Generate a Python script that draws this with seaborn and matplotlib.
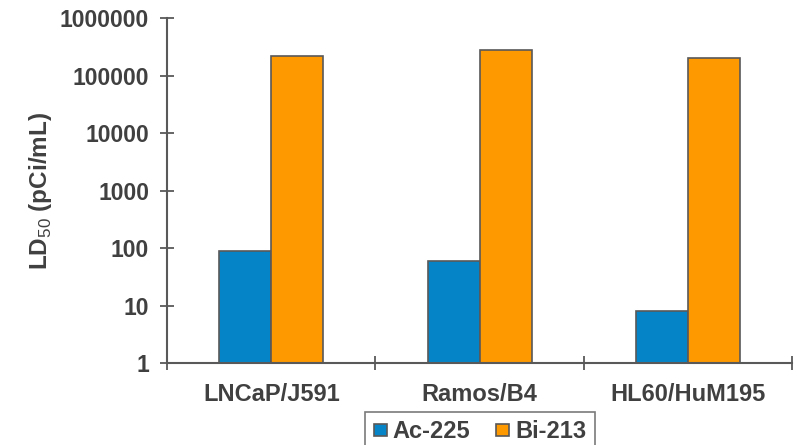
import matplotlib
matplotlib.use("Agg")
import matplotlib.pyplot as plt
from matplotlib.ticker import FixedLocator, NullFormatter, FixedFormatter
import seaborn as sns
import pandas as pd

# LD50 values (pCi/mL) per cell line / antibody pair
cell_lines = ["LNCaP/J591", "Ramos/B4", "HL60/HuM195"]
ac225 = [90, 60, 8.1]
bi213 = [215000, 277000, 198000]
isotopes = ["Ac-225", "Bi-213"]
ytick_values = [1, 10, 100, 1000, 10000, 100000, 1000000]
ytick_labels = ["1", "10", "100", "1000", "10000", "100000", "1000000"]

df = pd.DataFrame({
    "cell": cell_lines * 2,
    "isotope": [isotopes[0]] * 3 + [isotopes[1]] * 3,
    "ld50": ac225 + bi213,
})

sns.set_theme(style="white")
plt.rcParams["font.family"] = ["Liberation Sans", "DejaVu Sans"]
plt.rcParams["mathtext.fontset"] = "custom"
plt.rcParams["mathtext.rm"] = "Liberation Sans"
plt.rcParams["mathtext.bf"] = "Liberation Sans:bold"

text_color = "#404040"
line_color = "#595959"

fig = plt.figure(figsize=(8, 4.45), dpi=100)
ax = fig.add_axes([0.209, 0.1836, 0.781, 0.776])

sns.barplot(
    data=df, x="cell", y="ld50", hue="isotope",
    palette=["#0585c8", "#ff9900"], width=0.5,
    edgecolor=line_color, linewidth=1.2, saturation=1,
    ax=ax, legend=True,
)
ax.set_yscale("log")
ax.set_ylim(1, 1000000)
ax.set_xlim(-0.5, 2.5)

ax.yaxis.set_major_locator(FixedLocator(ytick_values))
ax.yaxis.set_major_formatter(FixedFormatter(ytick_labels))
ax.yaxis.set_minor_locator(FixedLocator([]))
ax.tick_params(axis="y", which="major", direction="inout", length=10,
               width=1.3, color=line_color, labelsize=16.5, labelcolor=text_color,
               left=True, pad=8)
for lbl in ax.get_yticklabels():
    lbl.set_fontweight("bold")

# category labels centred, ticks at group boundaries
ax.xaxis.set_minor_locator(FixedLocator([-0.5, 0.5, 1.5, 2.5]))
ax.xaxis.set_minor_formatter(NullFormatter())
ax.tick_params(axis="x", which="major", length=0, labelsize=17,
               labelcolor=text_color, pad=14)
ax.tick_params(axis="x", which="minor", direction="inout", length=10,
               width=1.3, color=line_color, bottom=True)
for lbl in ax.get_xticklabels():
    lbl.set_fontweight("bold")

ax.set_xlabel("")
ax.set_ylabel(r"LD$_{\mathrm{50}}$ (pCi/mL)", fontsize=17.5, fontweight="bold",
              color=text_color, labelpad=4)

for side in ["top", "right"]:
    ax.spines[side].set_visible(False)
for side in ["left", "bottom"]:
    ax.spines[side].set_color(line_color)
    ax.spines[side].set_linewidth(1.5)

handles, labels = ax.get_legend_handles_labels()
ax.get_legend().remove()
leg = fig.legend(
    handles, labels, loc="upper center", bbox_to_anchor=(0.6, 0.074),
    ncol=2, frameon=True, fancybox=False, fontsize=17,
    handlelength=0.55, handleheight=0.45, handletextpad=0.25,
    columnspacing=1.1, borderpad=0.35, borderaxespad=0,
)
leg.get_frame().set_edgecolor(line_color)
leg.get_frame().set_linewidth(1.2)
for t in leg.get_texts():
    t.set_fontweight("bold")
    t.set_color(text_color)

fig.savefig("out.png", dpi=100)
